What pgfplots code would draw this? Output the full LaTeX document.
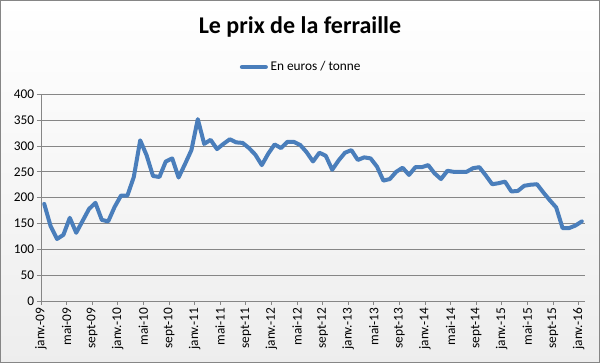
\documentclass[border=0pt]{standalone}
\usepackage{pgfplots}
\pgfplotsset{compat=1.18}
\usepackage{fontspec}
\setmainfont{Carlito}
\definecolor{serie}{RGB}{74,126,187}
\definecolor{gridc}{RGB}{134,134,134}
\begin{document}
\begin{tikzpicture}[x=0.75pt,y=0.75pt]
\useasboundingbox (0,0) rectangle (600,363);
\shade[top color=white, bottom color=black!7] (0,0) rectangle (600,363);
\draw[gridc, line width=0.9pt] (0.8,0.8) rectangle (599.2,362.2);
\node[font=\fontsize{18}{22}\selectfont\bfseries] at (300,336) {Le prix de la ferraille};
\begin{axis}[
  at={(30.75pt,46.5pt)}, anchor=south west,
  width=408pt, height=155pt, scale only axis,
  xmin=0, xmax=85, ymin=0, ymax=400,
  ytick={0,50,...,400},
  xtick={0,4,...,84},
  xticklabels={janv.-09,mai-09,sept-09,janv.-10,mai-10,sept-10,janv.-11,mai-11,sept-11,janv.-12,mai-12,sept-12,janv.-13,mai-13,sept-13,janv.-14,mai-14,sept-14,janv.-15,mai-15,sept-15,janv.-16},
  xticklabel style={rotate=90, anchor=east, font=\fontsize{10}{12}\selectfont, inner sep=2pt},
  yticklabel style={font=\fontsize{10}{12}\selectfont, inner sep=2pt},
  /pgf/number format/assume math mode=true,
  axis x line*=bottom, axis y line*=left,
  axis line style={gridc, line width=0.6pt, -},
  tick align=outside, major tick length=3pt,
  tick style={gridc, line width=0.6pt},
  ymajorgrids, major grid style={gridc, line width=0.6pt},
  xmajorgrids=false,
  legend style={at={(0.479,1.132)}, anchor=center, draw=none, fill=none, font=\fontsize{10}{12}\selectfont},
  legend image code/.code={\draw[#1, line width=3pt] (0pt,0pt) -- (18pt,0pt);},
  clip=false,
]
\addplot[color=serie, line width=3pt, line join=round, line cap=round, mark=none] coordinates {
(0.5,188)(1.5,145)(2.5,120)(3.5,128)(4.5,161)(5.5,132)(6.5,155)(7.5,178)(8.5,190)(9.5,157)(10.5,154)(11.5,182)
(12.5,204)(13.5,204)(14.5,240)(15.5,311)(16.5,282)(17.5,242)(18.5,240)(19.5,270)(20.5,276)(21.5,239)(22.5,265)(23.5,292)
(24.5,352)(25.5,304)(26.5,312)(27.5,294)(28.5,304)(29.5,313)(30.5,307)(31.5,306)(32.5,296)(33.5,283)(34.5,263)(35.5,285)
(36.5,303)(37.5,296)(38.5,308)(39.5,308)(40.5,302)(41.5,288)(42.5,270)(43.5,287)(44.5,281)(45.5,254)(46.5,272)(47.5,287)
(48.5,292)(49.5,273)(50.5,278)(51.5,276)(52.5,260)(53.5,233)(54.5,236)(55.5,250)(56.5,258)(57.5,244)(58.5,259)(59.5,259)
(60.5,263)(61.5,247)(62.5,236)(63.5,252)(64.5,250)(65.5,250)(66.5,250)(67.5,257)(68.5,259)(69.5,243)(70.5,226)(71.5,228)
(72.5,231)(73.5,212)(74.5,213)(75.5,223)(76.5,225)(77.5,226)(78.5,210)(79.5,195)(80.5,181)(81.5,141)(82.5,141)(83.5,146)
(84.5,154)
};
\addlegendentry{En euros / tonne}
\end{axis}
\end{tikzpicture}
\end{document}
